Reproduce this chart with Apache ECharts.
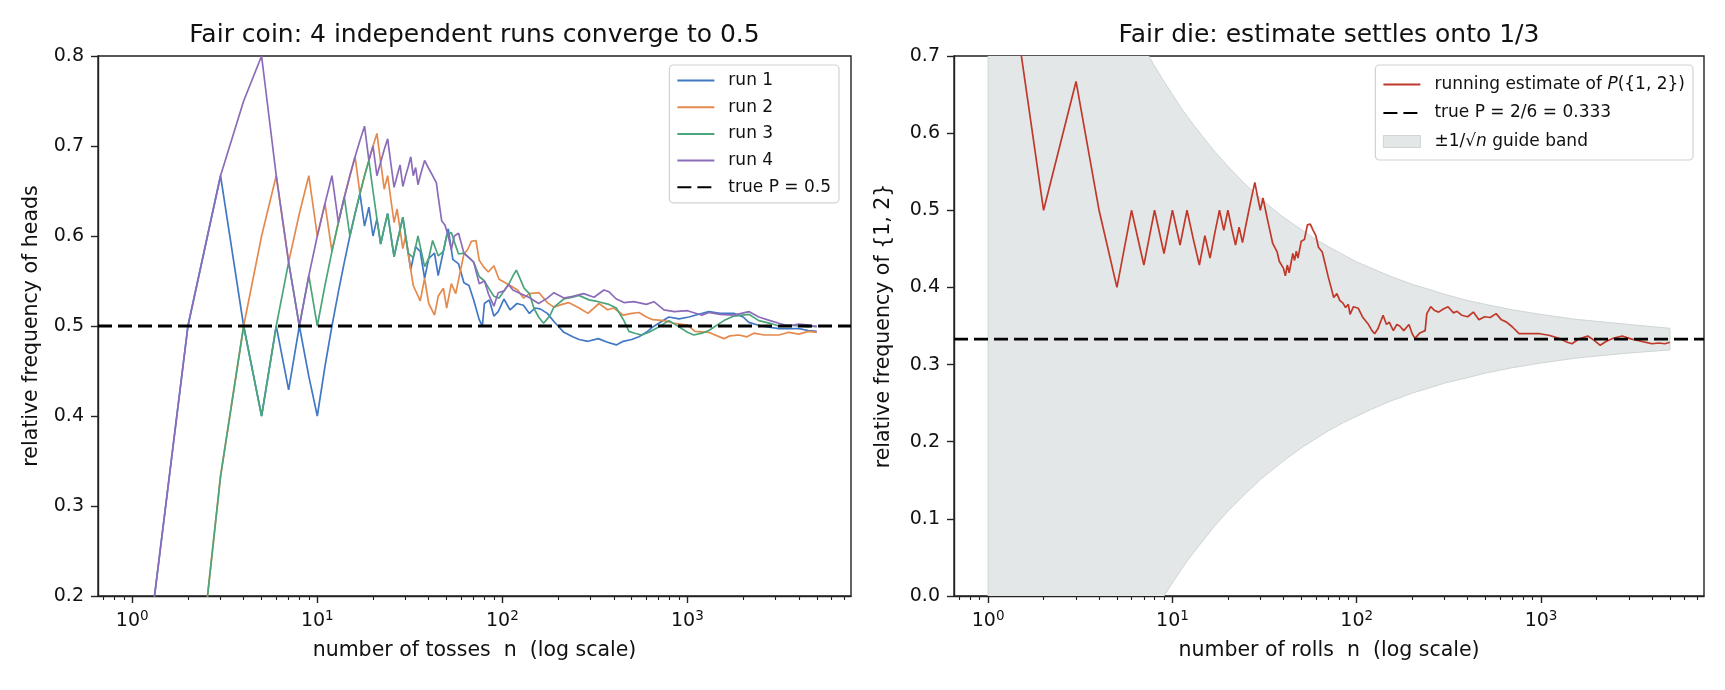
<!DOCTYPE html>
<html>
<head>
<meta charset="utf-8">
<script src="https://cdn.jsdelivr.net/npm/echarts@6/dist/echarts.min.js"></script>
<style>
  html, body { margin: 0; background: #fff; }
  #chart { width: 1725px; height: 690px; }
</style>
</head>
<body>
<div id="chart"></div>
<script>
  // ---- data: [n, running relative frequency] ----
  const run1 = [[1,0],[2,0.5],[3,0.667],[4,0.5],[5,0.4],[6,0.5],[7,0.429],[8,0.5],[9,0.444],[10,0.4],[11,0.455],[12,0.5],[13,0.538],[14,0.571],[15,0.6],[16,0.625],[17,0.647],[18,0.611],[19,0.632],[20,0.6],[21,0.619],[22,0.591],[23,0.609],[24,0.625],[25,0.6],[26,0.577],[27,0.593],[28,0.607],[29,0.621],[30,0.6],[32,0.563],[34,0.588],[36,0.583],[38,0.553],[40,0.575],[43,0.581],[45,0.556],[48,0.583],[51,0.608],[54,0.574],[58,0.569],[62,0.548],[66,0.545],[70,0.529],[75,0.507],[78,0.5],[80,0.525],[85,0.529],[90,0.511],[95,0.516],[102,0.53],[110,0.518],[120,0.525],[130,0.523],[140,0.514],[150,0.52],[160,0.519],[175,0.514],[190,0.505],[215,0.493],[240,0.488],[260,0.485],[290,0.483],[330,0.486],[370,0.482],[413,0.479],[450,0.483],[500,0.485],[547,0.488],[600,0.493],[650,0.499],[700,0.503],[794,0.51],[900,0.508],[1020,0.51],[1100,0.512],[1306,0.516],[1500,0.514],[1782,0.514],[2000,0.51],[2148,0.504],[2500,0.5],[3123,0.497],[3600,0.497],[4006,0.497],[4500,0.495],[5000,0.494]]
  const run2 = [[1,0],[2,0],[3,0.333],[4,0.5],[5,0.6],[6,0.667],[7,0.571],[8,0.625],[9,0.667],[10,0.6],[11,0.636],[12,0.583],[13,0.615],[14,0.643],[15,0.667],[16,0.688],[17,0.647],[18,0.667],[19,0.684],[20,0.7],[21,0.714],[22,0.682],[23,0.652],[24,0.667],[25,0.64],[26,0.615],[27,0.63],[28,0.607],[29,0.586],[30,0.6],[31,0.58],[33,0.545],[36,0.528],[38,0.553],[40,0.525],[43,0.512],[45,0.533],[48,0.542],[50,0.52],[53,0.547],[56,0.536],[59,0.559],[62,0.58],[65,0.585],[68,0.594],[72,0.595],[75,0.573],[79,0.566],[84,0.56],[90,0.567],[96,0.552],[102,0.549],[110,0.545],[121,0.54],[130,0.531],[140,0.536],[158,0.537],[175,0.526],[190,0.521],[210,0.524],[228,0.526],[260,0.52],[290,0.514],[333,0.525],[370,0.518],[400,0.52],[450,0.512],[500,0.514],[547,0.515],[600,0.51],[650,0.507],[747,0.506],[850,0.503],[1000,0.501],[1100,0.494],[1300,0.493],[1574,0.486],[1700,0.489],[1897,0.49],[2100,0.488],[2286,0.492],[2600,0.49],[3123,0.49],[3537,0.493],[4006,0.491],[4500,0.494],[5000,0.493]]
  const run3 = [[1,0],[2,0],[3,0.333],[4,0.5],[5,0.4],[6,0.5],[7,0.571],[8,0.5],[9,0.556],[10,0.5],[11,0.545],[12,0.583],[13,0.615],[14,0.643],[15,0.6],[16,0.625],[17,0.647],[18,0.667],[19,0.684],[20,0.65],[21,0.619],[22,0.591],[23,0.609],[24,0.625],[25,0.6],[26,0.577],[27,0.593],[28,0.607],[29,0.621],[30,0.6],[31,0.581],[33,0.576],[35,0.6],[38,0.566],[40,0.575],[42,0.595],[45,0.578],[48,0.583],[50,0.6],[53,0.604],[56,0.589],[58,0.58],[62,0.581],[66,0.576],[70,0.571],[75,0.555],[80,0.55],[85,0.541],[90,0.533],[96,0.531],[102,0.539],[108,0.546],[115,0.557],[119,0.562],[125,0.552],[131,0.542],[140,0.536],[148,0.52],[157,0.51],[167,0.503],[180,0.511],[190,0.521],[215,0.53],[240,0.532],[259,0.534],[294,0.529],[330,0.527],[377,0.524],[413,0.52],[454,0.506],[483,0.494],[520,0.492],[566,0.49],[620,0.493],[700,0.499],[794,0.506],[900,0.499],[1000,0.493],[1084,0.49],[1200,0.492],[1306,0.495],[1574,0.506],[1782,0.511],[2148,0.513],[2432,0.506],[2800,0.503],[3123,0.5],[3600,0.501],[4006,0.5],[4500,0.499],[5000,0.5]]
  const run4 = [[1,0],[2,0.5],[3,0.667],[4,0.75],[5,0.8],[6,0.667],[7,0.571],[8,0.5],[9,0.556],[10,0.6],[11,0.636],[12,0.667],[13,0.615],[14,0.643],[15,0.667],[16,0.688],[17,0.706],[18,0.722],[19,0.684],[20,0.7],[21,0.667],[22,0.682],[23,0.696],[24,0.708],[25,0.68],[26,0.654],[27,0.667],[28,0.679],[29,0.655],[30,0.667],[31,0.677],[32,0.688],[33,0.667],[34,0.676],[35,0.657],[36,0.667],[38,0.684],[40,0.675],[42,0.667],[44,0.659],[45,0.644],[47,0.617],[49,0.612],[51,0.6],[53,0.585],[55,0.6],[58,0.603],[62,0.581],[66,0.576],[70,0.571],[75,0.547],[80,0.55],[84,0.536],[90,0.522],[95,0.537],[102,0.539],[108,0.546],[114,0.54],[125,0.536],[139,0.532],[157,0.525],[175,0.531],[190,0.537],[215,0.531],[240,0.533],[275,0.536],[313,0.532],[354,0.54],[377,0.538],[413,0.53],[454,0.526],[514,0.527],[600,0.524],[659,0.527],[747,0.518],[850,0.516],[1000,0.517],[1200,0.512],[1306,0.515],[1500,0.513],[1782,0.512],[2148,0.516],[2432,0.51],[2800,0.506],[3123,0.503],[3537,0.5],[4006,0.502],[4500,0.501],[5000,0.499]]
  const coinTrueP = 0.5

  const die12 = [[1,1],[2,0.5],[3,0.667],[4,0.5],[5,0.4],[6,0.5],[7,0.429],[8,0.5],[9,0.444],[10,0.5],[11,0.455],[12,0.5],[13,0.462],[14,0.429],[15,0.467],[16,0.438],[17,0.471],[18,0.5],[19,0.474],[20,0.5],[21,0.476],[22,0.455],[23,0.478],[24,0.458],[25,0.48],[26,0.5],[27,0.519],[28,0.536],[29,0.517],[30,0.5],[31,0.516],[32,0.5],[33,0.485],[35,0.457],[37,0.446],[38,0.434],[40,0.425],[41,0.415],[42,0.429],[43,0.419],[45,0.444],[46,0.435],[47,0.447],[48,0.438],[50,0.46],[52,0.462],[54,0.481],[56,0.482],[58,0.474],[60,0.467],[62,0.452],[65,0.446],[67,0.433],[70,0.414],[72,0.403],[75,0.387],[78,0.392],[81,0.383],[84,0.38],[87,0.374],[90,0.378],[92,0.365],[96,0.375],[102,0.373],[108,0.361],[115,0.353],[121,0.344],[125,0.34],[130,0.346],[139,0.364],[145,0.352],[150,0.355],[158,0.344],[165,0.352],[171,0.35],[180,0.344],[192,0.352],[200,0.34],[207,0.334],[220,0.341],[235,0.344],[240,0.366],[252,0.375],[265,0.37],[278,0.368],[295,0.372],[313,0.375],[335,0.367],[350,0.369],[371,0.364],[400,0.362],[429,0.368],[460,0.358],[494,0.362],[530,0.361],[570,0.366],[610,0.358],[650,0.355],[697,0.349],[760,0.34],[850,0.34],[983,0.34],[1103,0.338],[1250,0.334],[1387,0.329],[1470,0.327],[1600,0.333],[1793,0.337],[1950,0.331],[2094,0.325],[2250,0.33],[2459,0.334],[2755,0.337],[3100,0.333],[3400,0.331],[3667,0.329],[4000,0.327],[4358,0.328],[4700,0.327],[5000,0.329]]
  const dieTrueP = 0.333

  // guide band edges
  const bandN  = [1, 1.5, 2, 3, 4, 5, 6, 7, 8, 9, 10, 11, 12, 13, 15, 17, 20, 25, 30, 35, 40, 50, 60, 70, 85, 100, 120, 150, 200, 250, 300, 400, 500, 700, 1000, 1500, 2000, 3000, 5000]
  const bandHi = [1.333, 1.150, 1.040, 0.911, 0.833, 0.781, 0.742, 0.711, 0.687, 0.667, 0.650, 0.635, 0.622, 0.611, 0.592, 0.576, 0.557, 0.533, 0.516, 0.502, 0.491, 0.475, 0.462, 0.453, 0.442, 0.433, 0.425, 0.415, 0.404, 0.397, 0.391, 0.383, 0.378, 0.371, 0.365, 0.359, 0.356, 0.352, 0.347]
  const bandLo = [-0.667, -0.483, -0.374, -0.244, -0.167, -0.114, -0.075, -0.045, -0.020, 0.000, 0.017, 0.032, 0.045, 0.056, 0.075, 0.091, 0.110, 0.133, 0.151, 0.164, 0.175, 0.192, 0.204, 0.214, 0.225, 0.233, 0.242, 0.252, 0.263, 0.270, 0.276, 0.283, 0.289, 0.296, 0.302, 0.308, 0.311, 0.315, 0.319]

  const decadeTicks = [0, 1, 2, 3]   // 10^0 .. 10^3
  const coinYTicks = [0.2, 0.8]
  const dieYTicks = [0.0, 0.7]

  const LOG_MIN = -0.185, LOG_MAX = 3.884
  const FONT = 'DejaVu Sans'
  const INK = '#222'
  const runColors = ['#4178c4', '#e58a4e', '#4aa57a', '#8b6cb9']
  const BAND_NAME = '±1/√n guide band'
  const EST_NAME = 'running estimate of P({1, 2})'

  // minor tick positions in log10 space
  const minorTicks = []
  for (let k = -1; k <= 3; k++) {
    for (let m = 2; m <= 9; m++) {
      const v = k + Math.log10(m)
      if (v > LOG_MIN && v < LOG_MAX) minorTicks.push(v)
    }
  }

  function xAxes(gridIndex, name) {
    return [
      { // data axis (log), hidden
        gridIndex: gridIndex, type: 'log', show: false,
        min: Math.pow(10, LOG_MIN), max: Math.pow(10, LOG_MAX),
        axisLine: { onZero: false }
      },
      { // decade ticks + labels
        gridIndex: gridIndex, type: 'value', position: 'bottom',
        min: LOG_MIN, max: LOG_MAX,
        name: name, nameLocation: 'middle', nameGap: 44,
        nameTextStyle: { fontFamily: FONT, fontSize: 20.5, color: '#111' },
        axisLine: { show: true, onZero: false, lineStyle: { color: INK, width: 1.4 } },
        axisTick: { show: true, customValues: decadeTicks, length: 7, lineStyle: { color: INK, width: 1.4 } },
        axisLabel: {
          customValues: decadeTicks, margin: 13, color: '#111',
          formatter: v => '{b|10}{s|' + Math.round(v) + '}',
          rich: {
            b: { fontFamily: FONT, fontSize: 19, lineHeight: 19, padding: [6, 0, 0, 0], color: '#111' },
            s: { fontFamily: FONT, fontSize: 13.5, lineHeight: 14, verticalAlign: 'top', color: '#111' }
          }
        },
        splitLine: { show: false }
      },
      { // minor ticks
        gridIndex: gridIndex, type: 'value', position: 'bottom',
        min: LOG_MIN, max: LOG_MAX,
        axisLine: { show: false, onZero: false },
        axisTick: { show: true, customValues: minorTicks, length: 4, lineStyle: { color: INK, width: 1.1 } },
        axisLabel: { show: false },
        splitLine: { show: false }
      }
    ]
  }

  function yAxis(gridIndex, ticks, name, gap) {
    return {
      gridIndex: gridIndex, type: 'value', min: ticks[0], max: ticks[1], interval: 0.1,
      name: name, nameLocation: 'middle', nameGap: gap,
      nameTextStyle: { fontFamily: FONT, fontSize: 20.5, color: '#111' },
      axisLine: { show: true, onZero: false, lineStyle: { color: INK, width: 1.4 } },
      axisTick: { show: true, length: 7, lineStyle: { color: INK, width: 1.4 } },
      axisLabel: { fontFamily: FONT, fontSize: 19, color: '#111', margin: 14, formatter: v => v.toFixed(1) },
      splitLine: { show: false }
    }
  }

  function runSeries(name, data, color) {
    return {
      name: name, type: 'line', xAxisIndex: 0, yAxisIndex: 0,
      data: data, symbol: 'none', showSymbol: false,
      lineStyle: { color: color, width: 1.7 }, itemStyle: { color: color }
    }
  }

  function hline(name, value, xAxisIndex, yAxisIndex) {
    return {
      name: name, type: 'line', xAxisIndex: xAxisIndex, yAxisIndex: yAxisIndex,
      data: [[Math.pow(10, LOG_MIN), value], [Math.pow(10, LOG_MAX), value]],
      symbol: 'none', showSymbol: false, z: 5,
      lineStyle: { color: '#000', width: 2.8, type: [14, 6] }, itemStyle: { color: '#000' }
    }
  }

  const legendBase = {
    orient: 'vertical', top: 65,
    itemWidth: 37, itemHeight: 12,
    backgroundColor: 'rgba(255,255,255,0.85)',
    borderColor: '#d2d2d2', borderWidth: 1.2, borderRadius: 4,
    itemStyle: { opacity: 0 },
    textStyle: {
      fontFamily: FONT, fontSize: 17, lineHeight: 17, color: '#111', padding: [0, 0, 0, 9],
      rich: { it: { fontFamily: FONT, fontSize: 17, fontStyle: 'italic', color: '#111' } }
    }
  }

  const chart = echarts.init(document.getElementById('chart'))

  chart.setOption({
    animation: false,
    backgroundColor: '#fff',
    title: [
      { text: 'Fair coin: 4 independent runs converge to 0.5', left: 474.5, top: 23, textAlign: 'center', padding: 0,
        textStyle: { fontFamily: FONT, fontSize: 25, fontWeight: 'normal', color: '#111' } },
      { text: 'Fair die: estimate settles onto 1/3', left: 1329, top: 23, textAlign: 'center', padding: 0,
        textStyle: { fontFamily: FONT, fontSize: 25, fontWeight: 'normal', color: '#111' } }
    ],
    grid: [
      { left: 98, right: 874, top: 56, bottom: 94, show: true, borderColor: INK, borderWidth: 1.4, backgroundColor: 'transparent' },
      { left: 954, right: 21, top: 56, bottom: 94, show: true, borderColor: INK, borderWidth: 1.4, backgroundColor: 'transparent' }
    ],
    xAxis: [].concat(
      xAxes(0, 'number of tosses  n  (log scale)'),
      xAxes(1, 'number of rolls  n  (log scale)')
    ),
    yAxis: [
      yAxis(0, coinYTicks, 'relative frequency of heads', 56),
      yAxis(1, dieYTicks, 'relative frequency of {1, 2}', 60)
    ],
    legend: [
      Object.assign({}, legendBase, {
        right: 886, itemGap: 9.7, padding: [7, 8, 7, 7],
        data: ['run 1', 'run 2', 'run 3', 'run 4', 'true P = 0.5']
      }),
      Object.assign({}, legendBase, {
        right: 32, itemGap: 11.5, padding: [11, 8, 10, 7],
        data: [
          EST_NAME,
          'true P = 2/6 = 0.333',
          { name: BAND_NAME, icon: 'rect', itemStyle: { opacity: 1, color: '#e3e7e7', borderColor: '#cfd5d5', borderWidth: 1 } }
        ],
        formatter: function (name) {
          if (name === EST_NAME) return 'running estimate of {it|P}({1, 2})'
          if (name === BAND_NAME) return '±1/√{it|n} guide band'
          return name
        }
      })
    ],
    series: [
      runSeries('run 1', run1, runColors[0]),
      runSeries('run 2', run2, runColors[1]),
      runSeries('run 3', run3, runColors[2]),
      runSeries('run 4', run4, runColors[3]),
      hline('true P = 0.5', coinTrueP, 0, 0),
      {
        name: BAND_NAME, type: 'custom', xAxisIndex: 3, yAxisIndex: 1, clip: true,
        itemStyle: { color: '#e3e7e7' },
        data: bandN.map((n, i) => [n, bandHi[i], bandLo[i]]),
        encode: { x: 0, y: [1, 2] },
        renderItem: function (params, api) {
          if (params.dataIndex !== 0) return
          const upper = bandN.map((n, i) => api.coord([n, bandHi[i]]))
          const lower = bandN.map((n, i) => api.coord([n, bandLo[i]])).reverse()
          const cs = params.coordSys
          return {
            type: 'polygon',
            shape: { points: upper.concat(lower) },
            style: { fill: '#e3e7e7', stroke: '#cfd5d5', lineWidth: 1 },
            clipPath: { type: 'rect', shape: { x: cs.x, y: cs.y, width: cs.width, height: cs.height } }
          }
        }
      },
      {
        name: EST_NAME, type: 'line', xAxisIndex: 3, yAxisIndex: 1,
        data: die12, symbol: 'none', showSymbol: false,
        lineStyle: { color: '#c0392b', width: 1.7 }, itemStyle: { color: '#c0392b' }
      },
      hline('true P = 2/6 = 0.333', dieTrueP, 3, 1)
    ]
  })
</script>
</body>
</html>
